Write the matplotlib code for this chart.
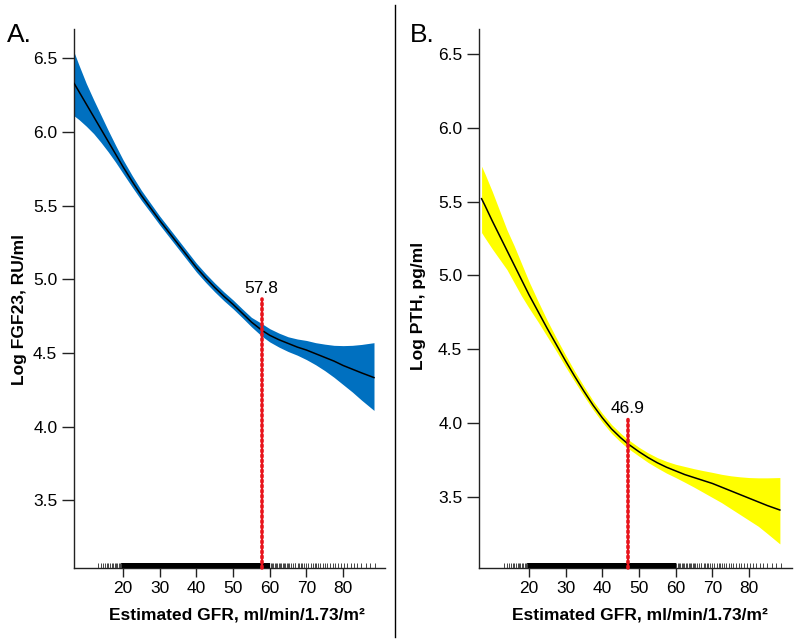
import matplotlib
matplotlib.use("Agg")
import matplotlib.pyplot as plt
from matplotlib.lines import Line2D
import matplotlib.transforms as mtransforms

plt.rcParams['font.family'] = ['Liberation Sans', 'DejaVu Sans']

# ---------------- data ----------------
fgf_x = [6.7, 8, 10, 12, 14, 16, 18, 20, 22.5, 25, 27.5, 30, 32.5, 35, 37.5, 40, 42.5, 45, 47.5,
         50, 52.5, 55, 57.8, 60, 62.5, 65, 67.5, 70, 72.5, 75, 77.5, 80, 82.5, 85, 88.4]
fgf_fit = [6.33, 6.275, 6.19, 6.105, 6.02, 5.935, 5.85, 5.765, 5.665, 5.57, 5.485, 5.40, 5.32,
           5.24, 5.16, 5.08, 5.01, 4.945, 4.885, 4.83, 4.77, 4.71, 4.655, 4.62, 4.59, 4.565, 4.54,
           4.52, 4.495, 4.47, 4.445, 4.415, 4.39, 4.365, 4.333]
fgf_upper = [6.54, 6.455, 6.33, 6.22, 6.115, 6.01, 5.91, 5.813, 5.705, 5.605, 5.517, 5.43, 5.35,
             5.27, 5.19, 5.11, 5.04, 4.975, 4.915, 4.86, 4.80, 4.742, 4.70, 4.665, 4.635, 4.61,
             4.595, 4.585, 4.57, 4.56, 4.552, 4.55, 4.552, 4.558, 4.57]
fgf_lower = [6.11, 6.085, 6.04, 5.99, 5.93, 5.865, 5.795, 5.72, 5.627, 5.537, 5.454, 5.37, 5.29,
             5.21, 5.13, 5.05, 4.98, 4.915, 4.855, 4.80, 4.74, 4.678, 4.615, 4.575, 4.54, 4.51,
             4.485, 4.455, 4.42, 4.38, 4.335, 4.285, 4.235, 4.18, 4.11]

pth_x = [7.1, 8, 10, 12, 14, 16, 18, 20, 22.5, 25, 27.5, 30, 32.5, 35, 37.5, 40, 42.5, 45, 46.9,
         50, 52.5, 55, 57.5, 60, 62.5, 65, 67.5, 70, 72.5, 75, 77.5, 80, 82.5, 85, 88.4]
pth_fit = [5.52, 5.475, 5.37, 5.27, 5.17, 5.07, 4.97, 4.87, 4.755, 4.64, 4.53, 4.42, 4.315, 4.215,
           4.12, 4.035, 3.96, 3.90, 3.86, 3.805, 3.765, 3.73, 3.70, 3.675, 3.65, 3.63, 3.61, 3.59,
           3.565, 3.54, 3.515, 3.49, 3.465, 3.44, 3.41]
pth_upper = [5.74, 5.69, 5.57, 5.44, 5.31, 5.20, 5.08, 4.96, 4.825, 4.695, 4.575, 4.46, 4.35,
             4.248, 4.15, 4.065, 3.99, 3.93, 3.89, 3.835, 3.797, 3.765, 3.74, 3.72, 3.705, 3.69,
             3.677, 3.665, 3.652, 3.642, 3.635, 3.63, 3.628, 3.628, 3.63]
pth_lower = [5.29, 5.255, 5.18, 5.11, 5.04, 4.95, 4.86, 4.78, 4.685, 4.585, 4.485, 4.38, 4.28,
             4.182, 4.09, 4.005, 3.93, 3.87, 3.83, 3.775, 3.732, 3.695, 3.66, 3.63, 3.598, 3.565,
             3.53, 3.495, 3.46, 3.42, 3.38, 3.34, 3.30, 3.25, 3.18]

fgf_cut = 57.8
fgf_cut_top = 4.87
pth_cut = 46.9
pth_cut_top = 4.03

# individual eGFR values (rug): densely populated range and sparse tails
gfr_rug_dense = [19.7, 20.1, 20.4, 20.8, 21.2, 21.5, 21.9, 22.3, 22.6, 23.0, 23.4, 23.7, 24.1,
                 24.5, 24.8, 25.2, 25.6, 25.9, 26.3, 26.7, 27.0, 27.4, 27.8, 28.1, 28.5, 28.9,
                 29.2, 29.6, 30.0, 30.3, 30.7, 31.1, 31.4, 31.8, 32.2, 32.5, 32.9, 33.3, 33.6,
                 34.0, 34.4, 34.7, 35.1, 35.5, 35.8, 36.2, 36.6, 36.9, 37.3, 37.7, 38.0, 38.4,
                 38.8, 39.1, 39.5, 39.9, 40.2, 40.6, 41.0, 41.3, 41.7, 42.1, 42.4, 42.8, 43.2,
                 43.5, 43.9, 44.3, 44.6, 45.0, 45.4, 45.7, 46.1, 46.5, 46.8, 47.2, 47.6, 47.9,
                 48.3, 48.7, 49.0, 49.4, 49.8, 50.1, 50.5, 50.9, 51.2, 51.6, 52.0, 52.3, 52.7,
                 53.1, 53.4, 53.8, 54.2, 54.5, 54.9, 55.3, 55.6, 56.0, 56.4, 56.7, 57.1, 57.5,
                 57.8, 58.2, 58.6, 58.9, 59.3, 59.7]
gfr_rug_sparse = [13.2, 13.9, 14.5, 15.1, 15.6, 16.0, 16.4, 16.9, 17.3, 17.7, 18.0, 18.4, 18.8,
                  19.1, 19.4, 60.2, 60.6, 61.0, 61.3, 61.7, 62.1, 62.4, 62.8, 63.0, 63.5, 63.9,
                  64.1, 64.6, 65.0, 65.3, 65.9, 66.4, 66.8, 67.0, 67.6, 68.1, 68.5, 68.7, 69.4,
                  70.0, 70.5, 71.2, 71.8, 72.2, 72.5, 73.1, 73.8, 74.4, 75.0, 75.7, 76.5, 77.2,
                  77.9, 78.6, 79.4, 80.3, 81.1, 82.0, 82.9, 83.8, 84.9, 86.2, 87.4, 88.6]

y_ticks = [3.5, 4.0, 4.5, 5.0, 5.5, 6.0, 6.5]
x_ticks = [20, 30, 40, 50, 60, 70, 80]

# ---------------- figure ----------------
W, H = 800, 643
fig = plt.figure(figsize=(W / 100, H / 100), dpi=100)


def px_axes(l, r, t, b):
    return fig.add_axes([l / W, 1 - b / H, (r - l) / W, (b - t) / H])


axA = px_axes(74, 385, 29, 568)
axB = px_axes(479, 792, 29, 568)

panels = [
    (axA, fgf_x, fgf_fit, fgf_lower, fgf_upper, '#0070C0', fgf_cut, fgf_cut_top,
     'Log FGF23, RU/ml', (6.65, 91.4), (3.04, 6.70), 'A.', 7, (-0.152, 0.479), 0.524),
    (axB, pth_x, pth_fit, pth_lower, pth_upper, '#FFFF00', pth_cut, pth_cut_top,
     'Log PTH, pg/ml', (6.4, 91.7), (3.017, 6.67), 'B.', 410, (-0.168, 0.486), 0.514),
]

for (ax, xs, fit, lo, up, col, cut, cut_top, ylab, xlim, ylim, plab, plab_x,
     ylab_pos, xlab_x) in panels:
    ax.fill_between(xs, lo, up, color=col, linewidth=0, zorder=2)
    ax.plot(xs, fit, color='black', lw=1.1, zorder=3)
    ax.set_xlim(*xlim)
    ax.set_ylim(*ylim)
    # cut-point line
    ax.plot([cut, cut], [ylim[0], cut_top], color='#E8141C', lw=2.6,
            linestyle=(0, (0.5, 0.9)), dash_capstyle='round', zorder=4, clip_on=False)
    ax.text(cut, cut_top + 0.02, f'{cut:.1f}', ha='center', va='bottom', fontsize=12.5, zorder=5)
    # rug
    trans = mtransforms.blended_transform_factory(ax.transData, ax.transAxes)
    ax.vlines(gfr_rug_dense, 0, 0.009, transform=trans, color='black', lw=1.6, zorder=3)
    ax.vlines(gfr_rug_sparse, 0, 0.009, transform=trans, color='#444444', lw=0.7, zorder=3)

    for s in ['top', 'right']:
        ax.spines[s].set_visible(False)
    for s in ['left', 'bottom']:
        ax.spines[s].set_linewidth(1.0)
        ax.spines[s].set_color('#222222')
    ax.set_xticks(x_ticks)
    ax.set_xticklabels([str(v) for v in x_ticks])
    ax.set_yticks(y_ticks)
    ax.set_yticklabels([f'{v:.1f}' for v in y_ticks])
    ax.tick_params(axis='x', length=6.5, width=1, color='#222222', labelsize=12.5, pad=3)
    ax.tick_params(axis='y', length=9, width=1, color='#222222', labelsize=12.5, pad=3)
    ax.set_ylabel(ylab, fontsize=12.5, fontweight='bold')
    ax.yaxis.set_label_coords(*ylab_pos)
    ax.set_xlabel('Estimated GFR, ml/min/1.73/m²', fontsize=12.5, fontweight='bold')
    ax.xaxis.set_label_coords(xlab_x, -0.073)
    fig.text(plab_x / W, 1 - 35 / H, plab, fontsize=19, ha='left', va='center')

# divider
fig.add_artist(Line2D([395 / W, 395 / W], [1 - 5 / H, 1 - 637 / H], color='black', lw=1.0))

fig.savefig('out.png', dpi=100)
